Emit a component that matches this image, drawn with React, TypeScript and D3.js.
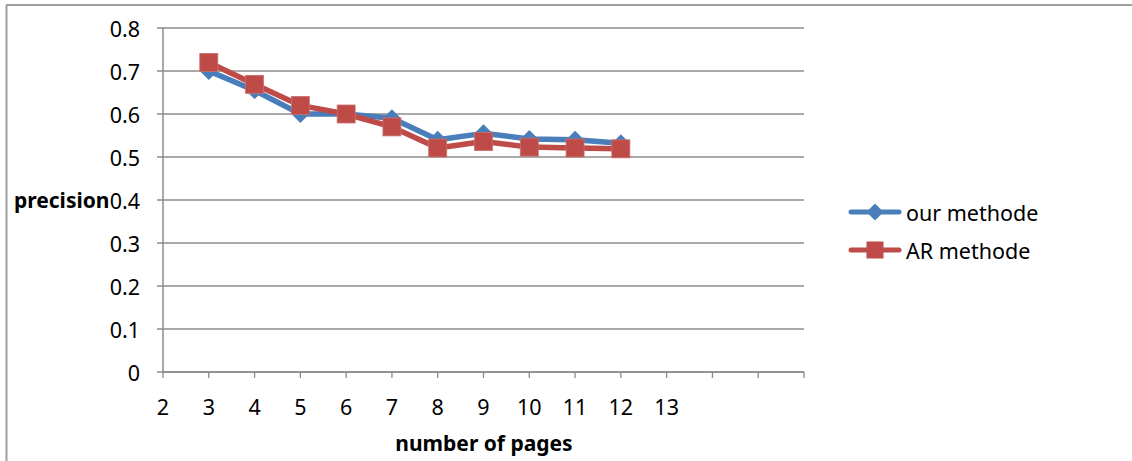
import React from "react";
import * as d3 from "d3";

const categories = ["2", "3", "4", "5", "6", "7", "8", "9", "10", "11", "12", "13", "", "", ""];
const pages = ["3", "4", "5", "6", "7", "8", "9", "10", "11", "12"];
const ourMethode = [0.70, 0.655, 0.60, 0.60, 0.59, 0.54, 0.555, 0.542, 0.54, 0.532];
const arMethode = [0.72, 0.669, 0.62, 0.60, 0.57, 0.521, 0.536, 0.523, 0.521, 0.519];
const yTicks = [0, 0.1, 0.2, 0.3, 0.4, 0.5, 0.6, 0.7, 0.8];

const W = 1132;
const H = 461;
const FONT = "'Noto Sans', sans-serif";
const BLUE = "#4a7ebb";
const RED = "#be4b48";
const GRID = "#8c8c8c";

export default function App() {
  const x = d3.scalePoint<number>().domain(d3.range(categories.length)).range([163, 804]);
  const y = d3.scaleLinear().domain([0, 0.8]).range([372, 28]);
  const xOf = (p: string) => x(categories.indexOf(p)) as number;

  const line = d3
    .line<number>()
    .x((_, i) => xOf(pages[i]))
    .y((d) => y(d));

  const diamond = (cx: number, cy: number, r: number) =>
    `M${cx},${cy - r}L${cx + r},${cy}L${cx},${cy + r}L${cx - r},${cy}Z`;

  const legendItems = [
    { name: "our methode", color: BLUE, marker: "diamond", y: 212 },
    { name: "AR methode", color: RED, marker: "square", y: 250 },
  ];

  return (
    <svg width={W} height={H} style={{ position: "absolute", left: 0, top: 0 }} fontFamily={FONT}>
      <rect x={0} y={0} width={W} height={H} fill="#fff" />
      {/* outer border (top and left) */}
      <line x1={6} y1={5} x2={W} y2={5} stroke="#a0a0a0" strokeWidth={2} />
      <line x1={6.5} y1={5} x2={6.5} y2={H} stroke="#a0a0a0" strokeWidth={2} />

      {/* gridlines */}
      {yTicks.map((t) => (
        <line key={"g" + t} x1={157} x2={804} y1={y(t)} y2={y(t)} stroke={GRID} strokeWidth={1.3} />
      ))}
      {/* y axis */}
      <line x1={163} x2={163} y1={28} y2={372} stroke={GRID} strokeWidth={1.5} />
      {yTicks.map((t) => (
        <text key={"yl" + t} x={140} y={y(t)} textAnchor="end" dominantBaseline="central" fontSize={21.5} fill="#000">
          {t === 0 ? "0" : t.toFixed(1)}
        </text>
      ))}
      {/* x axis */}
      <line x1={163} x2={804} y1={372} y2={372} stroke={GRID} strokeWidth={1.5} />
      {categories.map((c, i) => (
        <g key={"xt" + i}>
          <line x1={x(i) as number} x2={x(i) as number} y1={372} y2={378} stroke={GRID} strokeWidth={1.3} />
          <text x={x(i) as number} y={406} textAnchor="middle" dominantBaseline="central" fontSize={21.5} fill="#000">
            {c}
          </text>
        </g>
      ))}

      {/* axis titles */}
      <text x={14} y={y(0.4)} dominantBaseline="central" fontSize={21} fontWeight="bold" fill="#000">
        precision
      </text>
      <text x={484} y={443} textAnchor="middle" dominantBaseline="central" fontSize={21} fontWeight="bold" fill="#000">
        number of pages
      </text>

      {/* series: our methode */}
      <path d={line(ourMethode) || ""} fill="none" stroke={BLUE} strokeWidth={5.5} strokeLinejoin="round" />
      {ourMethode.map((v, i) => (
        <path key={"d" + i} d={diamond(xOf(pages[i]), y(v), 9)} fill={BLUE} />
      ))}
      {/* series: AR methode */}
      <path d={line(arMethode) || ""} fill="none" stroke={RED} strokeWidth={5.5} strokeLinejoin="round" />
      {arMethode.map((v, i) => (
        <rect key={"s" + i} x={xOf(pages[i]) - 9} y={y(v) - 9} width={18} height={18} fill={RED} stroke="#c9716f" strokeWidth={0.8} />
      ))}

      {/* legend */}
      {legendItems.map((it) => (
        <g key={it.name}>
          <line x1={851} x2={899} y1={it.y} y2={it.y} stroke={it.color} strokeWidth={5} strokeLinecap="round" />
          {it.marker === "diamond" ? (
            <path d={diamond(875, it.y, 8.5)} fill={it.color} />
          ) : (
            <rect x={866.5} y={it.y - 8.5} width={17} height={17} fill={it.color} />
          )}
          <text x={906} y={it.y} dominantBaseline="central" fontSize={21.5} fill="#000">
            {it.name}
          </text>
        </g>
      ))}
    </svg>
  );
}
